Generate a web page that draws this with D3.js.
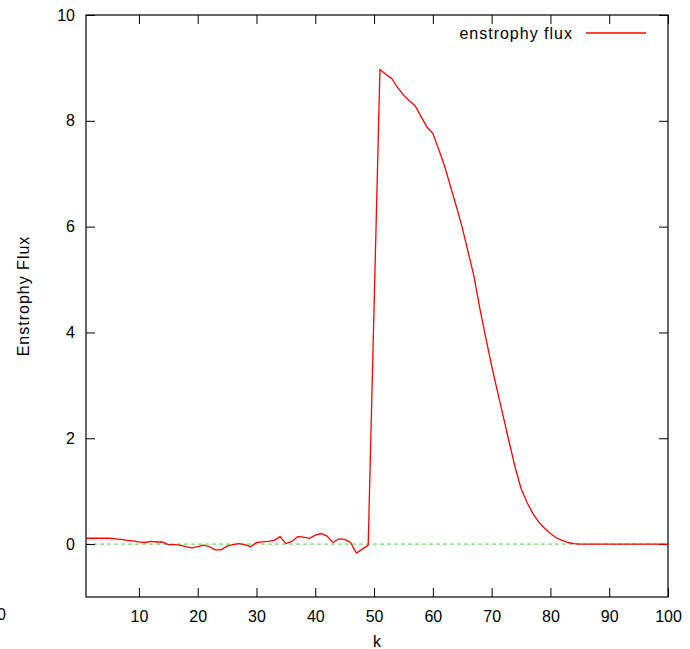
<!DOCTYPE html>
<html>
<head>
<meta charset="utf-8">
<title>Enstrophy Flux</title>
<script src="https://d3js.org/d3.v7.min.js"></script>
<style>
  body { margin: 0; padding: 0; background: #fff; }
  svg { display: block; font-family: "Liberation Sans", Arial, sans-serif; }
  .axis text { font-size: 16px; fill: #000; }
  .axis path { display: none; }
  .axis line { stroke: #000; stroke-width: 1; }
  .word { font-size: 16px; letter-spacing: 1px; }
</style>
</head>
<body>
<svg width="690" height="649"></svg>
<script>
// k = 1..100
var kValues = d3.range(1, 101);
var fluxValues = [
  0.11, 0.11, 0.11, 0.11, 0.11, 0.10, 0.09, 0.07, 0.06, 0.04,
  0.03, 0.05, 0.04, 0.04, -0.01, -0.01, -0.02, -0.05, -0.07, -0.05,
  -0.02, -0.05, -0.11, -0.11, -0.04, -0.01, 0.01, -0.01, -0.05, 0.03,
  0.04, 0.05, 0.07, 0.14, 0.01, 0.05, 0.14, 0.13, 0.11, 0.17,
  0.20, 0.15, 0.03, 0.10, 0.09, 0.03, -0.17, -0.095, -0.02, 4.47,
  8.97, 8.88, 8.80, 8.63, 8.49, 8.38, 8.28, 8.08, 7.88, 7.76,
  7.46, 7.14, 6.76, 6.38, 5.98, 5.52, 5.06, 4.45, 3.90, 3.37,
  2.88, 2.40, 1.92, 1.45, 1.05, 0.79, 0.58, 0.42, 0.30, 0.20,
  0.12, 0.07, 0.03, 0.01, 0, 0, 0, 0, 0, 0,
  0, 0, 0, 0, 0, 0, 0, 0, 0, 0
];
var xTicks = [10, 20, 30, 40, 50, 60, 70, 80, 90, 100];
var yTicks = [0, 2, 4, 6, 8, 10];

var svg = d3.select('svg');
var margin = { left: 86, right: 22, top: 15, bottom: 52 };
var width = +svg.attr('width');
var height = +svg.attr('height');
var x0 = margin.left, x1 = width - margin.right;
var y0 = height - margin.bottom, y1 = margin.top;

var x = d3.scaleLinear().domain([1, 100]).range([x0, x1]);
var y = d3.scaleLinear().domain([-1, 10]).range([y0, y1]);

// zero line
svg.append('line')
  .attr('x1', x0).attr('x2', x1)
  .attr('y1', y(0)).attr('y2', y(0))
  .attr('stroke', '#44dd44').attr('stroke-width', 1)
  .attr('stroke-dasharray', '4,3');

// axes (ticks inward, mirrored)
svg.append('g').attr('class', 'axis')
  .attr('transform', 'translate(0,' + y0 + ')')
  .call(d3.axisBottom(x).tickValues(xTicks).tickSizeInner(-9).tickSizeOuter(0).tickPadding(14));
svg.append('g').attr('class', 'axis')
  .attr('transform', 'translate(0,' + y1 + ')')
  .call(d3.axisTop(x).tickValues(xTicks).tickSizeInner(-9).tickSizeOuter(0).tickFormat(''));
svg.append('g').attr('class', 'axis')
  .attr('transform', 'translate(' + x0 + ',0)')
  .call(d3.axisLeft(y).tickValues(yTicks).tickSizeInner(-9).tickSizeOuter(0).tickPadding(11));
svg.append('g').attr('class', 'axis')
  .attr('transform', 'translate(' + x1 + ',0)')
  .call(d3.axisRight(y).tickValues(yTicks).tickSizeInner(-9).tickSizeOuter(0).tickFormat(''));

// stray "0" label at left edge, cut off as in the original
svg.append('text')
  .attr('x', 1.5).attr('y', 620)
  .attr('text-anchor', 'middle')
  .style('font-size', '16px')
  .text('0');

// frame
svg.append('rect')
  .attr('x', x0).attr('y', y1)
  .attr('width', x1 - x0).attr('height', y0 - y1)
  .attr('fill', 'none').attr('stroke', '#000').attr('stroke-width', 1.2);

// data line
var line = d3.line()
  .x(function(d, i) { return x(kValues[i]); })
  .y(function(d) { return y(d); });
svg.append('path')
  .datum(fluxValues)
  .attr('d', line)
  .attr('fill', 'none')
  .attr('stroke', '#ff0000')
  .attr('stroke-width', 1.3);

// axis labels
svg.append('text')
  .attr('x', (x0 + x1) / 2).attr('y', 647)
  .attr('text-anchor', 'middle')
  .style('font-size', '16px')
  .text('k');
svg.append('text')
  .attr('class', 'word')
  .attr('transform', 'translate(29,296) rotate(-90)')
  .attr('text-anchor', 'middle')
  .text('Enstrophy Flux');

// legend
svg.append('text')
  .attr('class', 'word')
  .attr('x', 573).attr('y', 39)
  .attr('text-anchor', 'end')
  .text('enstrophy flux');
svg.append('line')
  .attr('x1', 586).attr('x2', 646)
  .attr('y1', 33).attr('y2', 33)
  .attr('stroke', '#ff0000').attr('stroke-width', 1.3);
</script>
</body>
</html>
